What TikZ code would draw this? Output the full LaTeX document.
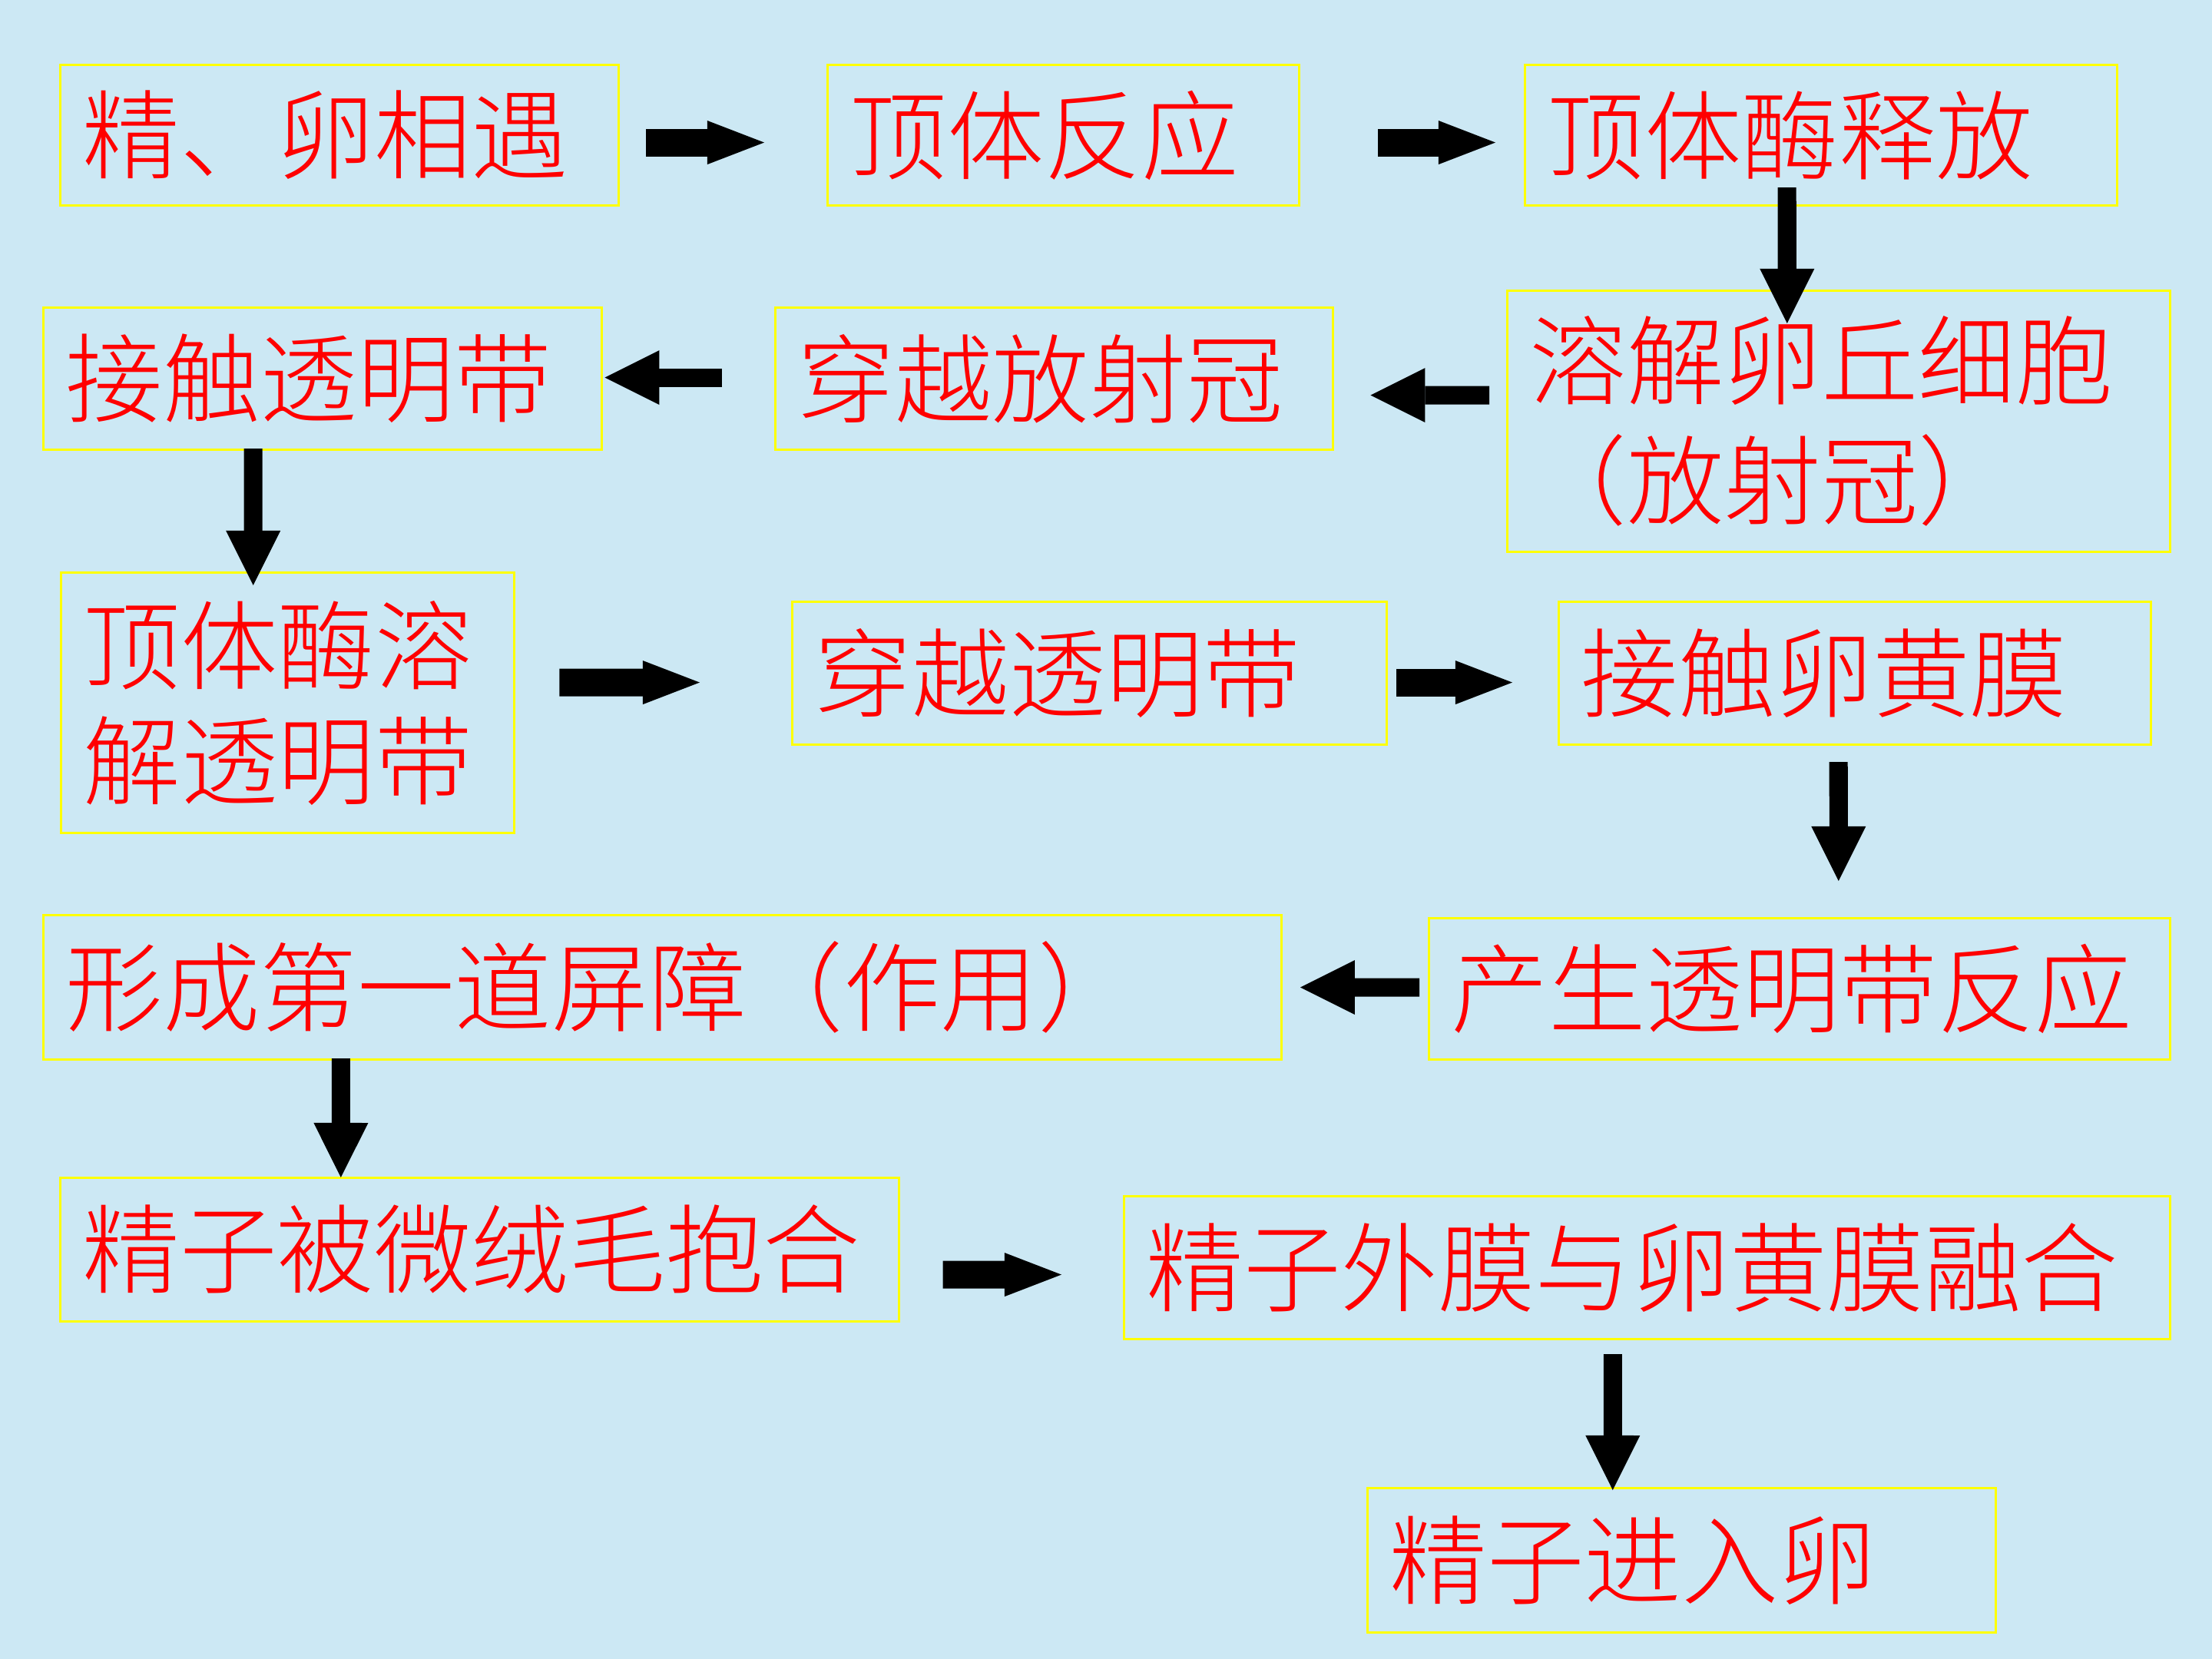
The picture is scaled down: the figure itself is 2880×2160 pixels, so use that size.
\documentclass[tikz,border=0pt]{standalone}
\usepackage{fontspec}
\IfFontExistsTF{Noto Sans CJK SC Light}{\setmainfont{Noto Sans CJK SC Light}}{\setmainfont{Noto Sans CJK SC}}
\usetikzlibrary{arrows.meta,calc}
\definecolor{bgblue}{RGB}{204,232,244}
\definecolor{boxyellow}{RGB}{255,255,0}
\definecolor{txtred}{RGB}{255,0,0}
\begin{document}
\begin{tikzpicture}[x=0.01cm,y=-0.01cm,
  stepbox/.style={draw=boxyellow, line width=0.03cm, anchor=north west, inner xsep=0.29cm, inner ysep=0pt, align=left, text=txtred, font=\fontsize{36pt}{44pt}\selectfont},
  rarrow/.style={line width=0.36cm, -{Triangle[length=0.74cm,width=0.57cm,line width=0pt]}},
  narrow/.style={line width=0.24cm, -{Triangle[length=0.71cm,width=0.71cm,line width=0pt]}}]
\useasboundingbox (0,0) rectangle (2880,2160);
\fill[bgblue] (0,0) rectangle (2880,2160);

\node[stepbox, text width=6.69cm, minimum height=1.83cm] (b1) at (77,83) {精、卵相遇};
\node[stepbox, text width=5.56cm, minimum height=1.83cm] (b2) at (1076,83) {顶体反应};
\node[stepbox, text width=7.13cm, minimum height=1.83cm] (b3) at (1984,83) {顶体酶释放};
\node[stepbox, text width=8.04cm, minimum height=3.40cm, font=\fontsize{36pt}{44.4pt}\selectfont] (b4) at (1961,377) {溶解卵丘细胞\\（放射冠）};
\node[stepbox, text width=6.68cm, minimum height=1.85cm] (b5) at (1008,399) {穿越放射冠};
\node[stepbox, text width=6.69cm, minimum height=1.85cm] (b6) at (55,399) {接触透明带};
\node[stepbox, text width=5.32cm, minimum height=3.39cm, font=\fontsize{36pt}{42.7pt}\selectfont] (b7) at (78,744) {顶体酶溶\\解透明带};
\node[stepbox, text width=7.16cm, minimum height=1.86cm] (b8) at (1030,782) {穿越透明带};
\node[stepbox, text width=7.13cm, minimum height=1.86cm] (b9) at (2028,782) {接触卵黄膜};
\node[stepbox, text width=9.06cm, minimum height=1.84cm] (b10) at (1859,1194) {产生透明带反应};
\node[stepbox, text width=15.53cm, minimum height=1.88cm] (b11) at (55,1190) {形成第一道屏障（作用）};
\node[stepbox, text width=10.33cm, minimum height=1.87cm] (b12) at (77,1532) {精子被微绒毛抱合};
\node[stepbox, text width=13.03cm, minimum height=1.86cm] (b13) at (1462,1556) {精子外膜与卵黄膜融合};
\node[stepbox, text width=7.60cm, minimum height=1.88cm] (b14) at (1779,1936) {精子进入卵};

\draw[rarrow] ($(b1.east)+(34,9.5)$) -- ($(b2.west)+(-81,9.5)$);
\draw[rarrow] ($(b2.east)+(101,9.5)$) -- ($(b3.west)+(-37,9.5)$);
\draw[narrow] ($(b3.south)+(-44.5,-25)$) -- ($(b4.north)+(-67,44)$);
\draw[narrow] ($(b4.west)+(-22,-34)$) -- ($(b5.east)+(47,21.5)$);
\draw[narrow] ($(b5.west)+(-68,-1.5)$) -- ($(b6.east)+(2,-1.5)$);
\draw[narrow] ($(b6.south)+(-90.5,-3)$) -- ($(b7.north)+(-45,18)$);
\draw[rarrow] ($(b7.east)+(57,-26.5)$) -- ($(b8.west)+(-119,12)$);
\draw[rarrow] ($(b8.east)+(11,12)$) -- ($(b9.west)+(-59,12)$);
\draw[narrow] ($(b9.south)+(-21.5,21)$) -- ($(b10.north)+(51,-47)$);
\draw[narrow] ($(b10.west)+(-11,-2)$) -- ($(b11.east)+(23,0)$);
\draw[narrow] ($(b11.south)+(-418.5,-3)$) -- ($(b12.north)+(-180.5,1)$);
\draw[rarrow] ($(b12.east)+(56,32.5)$) -- ($(b13.west)+(-80,9)$);
\draw[narrow] ($(b13.south)+(-44.5,18)$) -- ($(b14.north)+(-90,4)$);
\end{tikzpicture}
\end{document}
